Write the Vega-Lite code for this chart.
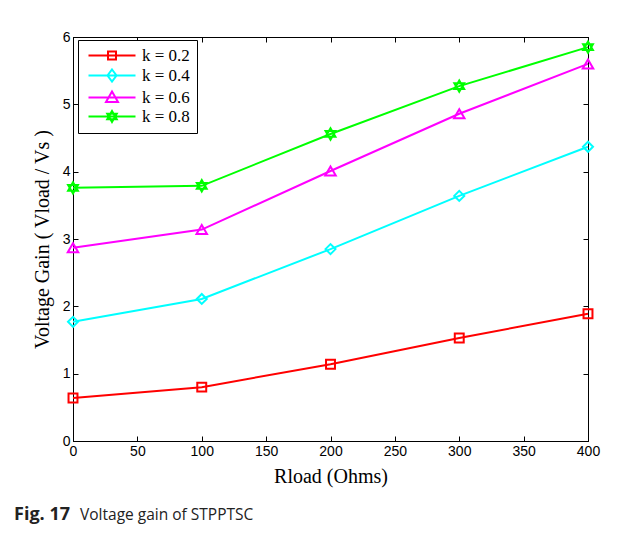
{
  "$schema": "https://vega.github.io/schema/vega-lite/v6.json",
  "width": 515,
  "height": 404,
  "autosize": {"type": "none"},
  "padding": {"left": 73, "top": 37, "right": 36, "bottom": 97},
  "background": "white",
  "config": {
    "view": {"stroke": "black", "strokeWidth": 1},
    "axis": {
      "grid": false,
      "labelFont": "Liberation Sans",
      "labelFontSize": 14,
      "labelColor": "black",
      "labelFlush": false,
      "titleFont": "Liberation Serif",
      "titleFontSize": 20,
      "titleFontWeight": "normal",
      "titleColor": "black",
      "domainColor": "black",
      "tickColor": "black",
      "tickSize": -5
    }
  },
  "data": {
    "values": [
      {"x": 0, "y": 0.64, "k": "k = 0.2"},
      {"x": 100, "y": 0.80, "k": "k = 0.2"},
      {"x": 200, "y": 1.14, "k": "k = 0.2"},
      {"x": 300, "y": 1.53, "k": "k = 0.2"},
      {"x": 400, "y": 1.89, "k": "k = 0.2"},
      {"x": 0, "y": 1.77, "k": "k = 0.4"},
      {"x": 100, "y": 2.11, "k": "k = 0.4"},
      {"x": 200, "y": 2.85, "k": "k = 0.4"},
      {"x": 300, "y": 3.64, "k": "k = 0.4"},
      {"x": 400, "y": 4.37, "k": "k = 0.4"},
      {"x": 0, "y": 2.87, "k": "k = 0.6"},
      {"x": 100, "y": 3.14, "k": "k = 0.6"},
      {"x": 200, "y": 4.01, "k": "k = 0.6"},
      {"x": 300, "y": 4.86, "k": "k = 0.6"},
      {"x": 400, "y": 5.60, "k": "k = 0.6"},
      {"x": 0, "y": 3.76, "k": "k = 0.8"},
      {"x": 100, "y": 3.79, "k": "k = 0.8"},
      {"x": 200, "y": 4.56, "k": "k = 0.8"},
      {"x": 300, "y": 5.27, "k": "k = 0.8"},
      {"x": 400, "y": 5.85, "k": "k = 0.8"}
    ]
  },
  "layer": [
    {
      "mark": {"type": "line", "strokeWidth": 2},
      "encoding": {
        "x": {"field": "x", "type": "quantitative", "scale": {"domain": [0, 400]}, "axis": {"title": "Rload (Ohms)", "values": [0, 50, 100, 150, 200, 250, 300, 350, 400], "labelPadding": 8, "titlePadding": 8}},
        "y": {"field": "y", "type": "quantitative", "scale": {"domain": [0, 6]}, "axis": {"title": "Voltage Gain ( Vload / Vs )", "values": [0, 1, 2, 3, 4, 5, 6], "labelPadding": 8, "titlePadding": 10}},
        "stroke": {
          "field": "k",
          "type": "nominal",
          "scale": {"domain": ["k = 0.2", "k = 0.4", "k = 0.6", "k = 0.8"], "range": ["#ff0000", "#00ffff", "#ff00ff", "#00ff00"]},
          "legend": {
            "title": null,
            "orient": "none",
            "legendX": 5,
            "legendY": 3,
            "strokeColor": "black",
            "fillColor": "white",
            "padding": 7,
            "symbolSize": 100,
            "symbolStrokeWidth": 2,
            "labelFont": "Liberation Serif",
            "labelFontSize": 17,
            "labelColor": "black",
            "labelOffset": 40,
            "rowPadding": 1,
            "encode": {
              "symbols": {
                "update": {
                  "shape": {"signal": "datum.value === 'k = 0.2' ? 'M-1,0H8.4M2.9,-0.8H4.5V0.8H2.9Z' : datum.value === 'k = 0.4' ? 'M-1,0H8.4M3.7,-1.2L4.6,0L3.7,1.2L2.8,0Z' : datum.value === 'k = 0.6' ? 'M-1,0H8.4M3.7,-1.2L4.9,0.9H2.5Z' : 'M-1,0H8.4M3.7,-1.1L4.65,0.55H2.75ZM3.7,1.1L4.65,-0.55H2.75Z'"},
                  "fill": {"signal": "datum.value === 'k = 0.8' ? '#00ff00' : 'transparent'"},
                  "size": {"value": 100},
                  "strokeWidth": {"value": 2}
                }
              }
            }
          }
        }
      }
    },
    {
      "transform": [{"filter": "datum.k === 'k = 0.2'"}],
      "mark": {"type": "point", "shape": "square", "size": 80, "strokeWidth": 2, "filled": false, "opacity": 1},
      "encoding": {
        "x": {"field": "x", "type": "quantitative", "axis": null},
        "y": {"field": "y", "type": "quantitative", "axis": null},
        "stroke": {"field": "k", "type": "nominal", "legend": null}
      }
    },
    {
      "transform": [{"filter": "datum.k === 'k = 0.4'"}],
      "mark": {"type": "point", "shape": "diamond", "size": 100, "strokeWidth": 2, "filled": false, "opacity": 1},
      "encoding": {
        "x": {"field": "x", "type": "quantitative", "axis": null},
        "y": {"field": "y", "type": "quantitative", "axis": null},
        "stroke": {"field": "k", "type": "nominal", "legend": null}
      }
    },
    {
      "transform": [{"filter": "datum.k === 'k = 0.6'"}],
      "mark": {"type": "point", "shape": "triangle-up", "size": 110, "strokeWidth": 2, "filled": false, "opacity": 1},
      "encoding": {
        "x": {"field": "x", "type": "quantitative", "axis": null},
        "y": {"field": "y", "type": "quantitative", "axis": null},
        "stroke": {"field": "k", "type": "nominal", "legend": null}
      }
    },
    {
      "transform": [{"filter": "datum.k === 'k = 0.8'"}],
      "mark": {"type": "point", "shape": "M0,-1L0.866,0.5L-0.866,0.5ZM0,1L0.866,-0.5L-0.866,-0.5Z", "size": 130, "strokeWidth": 2, "filled": false, "fill": "#00ff00", "opacity": 1},
      "encoding": {
        "x": {"field": "x", "type": "quantitative", "axis": null},
        "y": {"field": "y", "type": "quantitative", "axis": null},
        "stroke": {"field": "k", "type": "nominal", "legend": null}
      }
    },
    {
      "mark": {"type": "point", "opacity": 0},
      "encoding": {
        "x": {"field": "x", "type": "quantitative", "axis": {"orient": "top", "labels": false, "title": null, "values": [0, 50, 100, 150, 200, 250, 300, 350, 400]}},
        "y": {"field": "y", "type": "quantitative", "axis": {"orient": "right", "labels": false, "title": null, "values": [0, 1, 2, 3, 4, 5, 6]}}
      }
    },
    {
      "data": {"values": [{"caption": "Fig. 17"}]},
      "mark": {"type": "text", "align": "left", "baseline": "alphabetic", "font": "Open Sans", "fontSize": 18, "fontWeight": "bold", "color": "#222222"},
      "encoding": {
        "x": {"datum": -45.8, "type": "quantitative", "axis": null},
        "y": {"datum": -1.173, "type": "quantitative", "axis": null},
        "text": {"field": "caption"}
      }
    },
    {
      "data": {"values": [{"caption": "Voltage gain of STPPTSC"}]},
      "mark": {"type": "text", "align": "left", "baseline": "alphabetic", "font": "Open Sans", "fontSize": 15.5, "fontWeight": "normal", "color": "#222222", "dx": 66},
      "encoding": {
        "x": {"datum": -45.8, "type": "quantitative", "axis": null},
        "y": {"datum": -1.173, "type": "quantitative", "axis": null},
        "text": {"field": "caption"}
      }
    }
  ],
  "resolve": {"axis": {"x": "independent", "y": "independent"}}
}
